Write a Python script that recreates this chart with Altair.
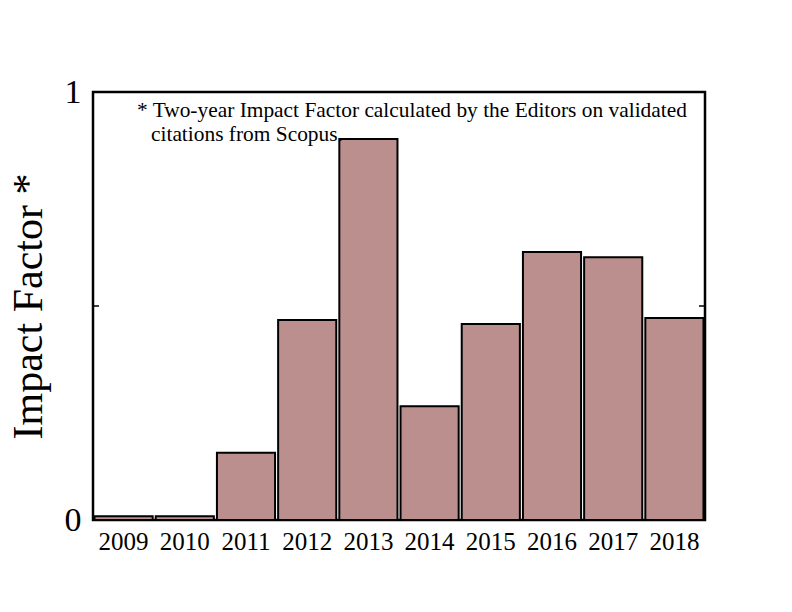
import altair as alt
import pandas as pd

years = ["2009", "2010", "2011", "2012", "2013", "2014", "2015", "2016", "2017", "2018"]
impact = [0.009, 0.009, 0.157, 0.467, 0.890, 0.266, 0.458, 0.626, 0.614, 0.472]
note_lines = ["* Two-year Impact Factor calculated by the Editors on validated",
              "citations from Scopus."]

df = pd.DataFrame({"year": years, "impact": impact})
FONT = "Liberation Serif"

bars = alt.Chart(df).mark_bar(color="#bc8f8f", stroke="black", strokeWidth=2).encode(
    x=alt.X("year:N", sort=years,
            scale=alt.Scale(paddingInner=0.05, paddingOuter=0.025),
            axis=alt.Axis(title=None, labelAngle=0, labelFont=FONT, labelFontSize=25,
                          labelColor="black", ticks=False, domain=False, labelPadding=9)),
    y=alt.Y("impact:Q", scale=alt.Scale(domain=[0, 1], nice=False),
            axis=alt.Axis(title="Impact Factor *", values=[0, 0.5, 1],
                          labelExpr="datum.value == 0.5 ? '' : (datum.value == 1 ? '1' : '0')",
                          labelFont=FONT, labelFontSize=34, labelColor="black",
                          ticks=False, domain=False, grid=False, labelPadding=12,
                          titleFont=FONT, titleFontSize=42, titleFontWeight="normal",
                          titleColor="black", titleX=-52, titleY=214, titleAngle=-90,
                          titleAlign="center", titleBaseline="alphabetic")),
)

tick_df = pd.DataFrame({"v": [0.5]})
left_tick = alt.Chart(tick_df).mark_rule(color="black", strokeWidth=1.5).encode(
    y="v:Q", x=alt.value(0), x2=alt.value(6))
right_tick = alt.Chart(tick_df).mark_rule(color="black", strokeWidth=1.5).encode(
    y="v:Q", x=alt.value(606), x2=alt.value(612))

note1 = alt.Chart(pd.DataFrame({"t": [note_lines[0]]})).mark_text(
    font=FONT, fontSize=21.4, align="left", baseline="alphabetic", color="black").encode(
    text="t:N", x=alt.value(44), y=alt.value(25))
note2 = alt.Chart(pd.DataFrame({"t": [note_lines[1]]})).mark_text(
    font=FONT, fontSize=21.4, align="left", baseline="alphabetic", color="black").encode(
    text="t:N", x=alt.value(58), y=alt.value(49))

chart = alt.layer(bars, left_tick, right_tick, note1, note2).properties(
    width=612, height=428,
    autosize=alt.AutoSizeParams(type="none"),
    padding={"left": 85, "top": 84, "right": 79, "bottom": 76},
).configure_view(stroke="black", strokeWidth=2.5).configure_axis(grid=False)

chart.save("out.html", embed_options={"renderer": "svg", "actions": False})
